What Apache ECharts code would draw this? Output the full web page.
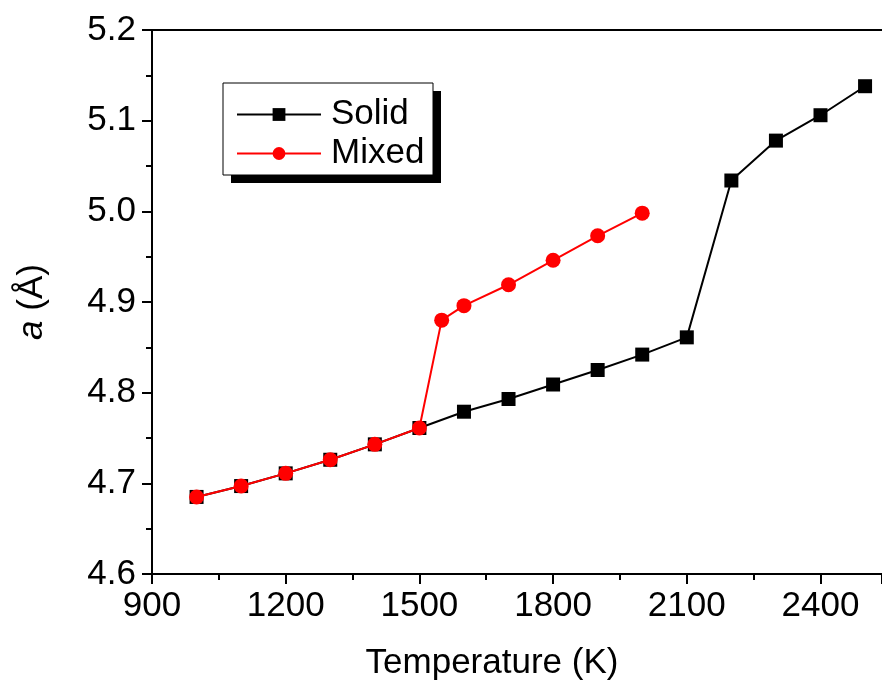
<!DOCTYPE html>
<html lang="en">
<head>
    <meta charset="UTF-8">
    <title>Lattice parameter vs temperature</title>
    <script src="https://cdn.jsdelivr.net/npm/echarts@6/dist/echarts.min.js"></script>
    <style>
        html, body { margin: 0; padding: 0; background: #fff; }
    </style>
</head>
<body>
<div id="main" style="width: 882px;height:688px;"></div>
<script>
    // 数据
    var solidT = [1000, 1100, 1200, 1300, 1400, 1500, 1600, 1700, 1800, 1900, 2000, 2100, 2200, 2300, 2400, 2500]
    var solidA = [4.685, 4.697, 4.711, 4.726, 4.743, 4.761, 4.779, 4.793, 4.809, 4.825, 4.842, 4.861, 5.034, 5.078, 5.106, 5.138]
    var mixedT = [1000, 1100, 1200, 1300, 1400, 1500, 1550, 1600, 1700, 1800, 1900, 2000]
    var mixedA = [4.685, 4.697, 4.711, 4.726, 4.743, 4.761, 4.880, 4.896, 4.919, 4.946, 4.973, 4.998]

    function pairs(xs, ys) {
        return xs.map(function (x, i) { return [x, ys[i]] })
    }

    var font = 'Liberation Sans, Arial, sans-serif'
    var fs = 35

    var myChart = echarts.init(document.getElementById('main'))
    var option = {
        animation: false,
        textStyle: { fontFamily: font },
        grid: { left: 152, top: 30, right: 0, bottom: 114 },
        // 图例的框和阴影
        graphic: [
            { type: 'rect', z: 1, shape: { x: 231, y: 91, width: 210, height: 92 }, style: { fill: '#000' } },
            { type: 'rect', z: 2, shape: { x: 223, y: 83, width: 210, height: 92 }, style: { fill: '#fff', stroke: '#000', lineWidth: 1 } }
        ],
        legend: {
            left: 236,
            top: 97,
            orient: 'vertical',
            padding: 0,
            itemWidth: 84,
            itemHeight: 16,
            itemGap: 4,
            z: 10,
            textStyle: { fontSize: fs, color: '#000', fontFamily: font, padding: [0, 0, 0, 5] },
            data: ['Solid', 'Mixed']
        },
        xAxis: [{
            type: 'value',
            min: 900,
            max: 2538,
            interval: 300,
            name: 'Temperature (K)',
            nameLocation: 'middle',
            nameGap: 72,
            nameTextStyle: { fontSize: fs, color: '#000', padding: [0, 50, 0, 0] },
            axisLine: { onZero: false, lineStyle: { color: '#000', width: 2 } },
            axisTick: { inside: false, length: 10, lineStyle: { width: 2 } },
            minorTick: { show: true, splitNumber: 2, length: 6, lineStyle: { color: '#000', width: 2 } },
            axisLabel: {
                fontSize: fs, color: '#000', margin: 15, showMaxLabel: false,
                formatter: function (v) { return String(v) }
            },
            splitLine: { show: false }
        }, {
            type: 'value',
            position: 'top',
            min: 900,
            max: 2538,
            axisLine: { show: true, lineStyle: { color: '#000', width: 2 } },
            axisTick: { show: false },
            axisLabel: { show: false },
            splitLine: { show: false }
        }],
        yAxis: {
            type: 'value',
            min: 4.6,
            max: 5.2,
            interval: 0.1,
            name: '{i|a} (Å)',
            nameLocation: 'middle',
            nameGap: 102,
            nameTextStyle: {
                fontSize: fs, color: '#000',
                rich: { i: { fontStyle: 'italic', fontSize: fs, color: '#000' } }
            },
            axisLine: { onZero: false, lineStyle: { color: '#000', width: 2 } },
            axisTick: { inside: false, length: 10, lineStyle: { width: 2 } },
            minorTick: { show: true, splitNumber: 2, length: 6, lineStyle: { color: '#000', width: 2 } },
            axisLabel: {
                fontSize: fs, color: '#000', margin: 16,
                formatter: function (v) { return v.toFixed(1) }
            },
            splitLine: { show: false }
        },
        series: [
            {
                name: 'Solid',
                type: 'line',
                data: pairs(solidT, solidA),
                symbol: 'rect',
                symbolSize: 14,
                itemStyle: { color: '#000' },
                lineStyle: { color: '#000', width: 2 },
                z: 2
            },
            {
                name: 'Mixed',
                type: 'line',
                data: pairs(mixedT, mixedA),
                symbol: 'circle',
                symbolSize: 15,
                itemStyle: { color: '#ff0000' },
                lineStyle: { color: '#ff0000', width: 2 },
                z: 3
            }
        ]
    }
    myChart.setOption(option)
</script>
</body>
</html>
